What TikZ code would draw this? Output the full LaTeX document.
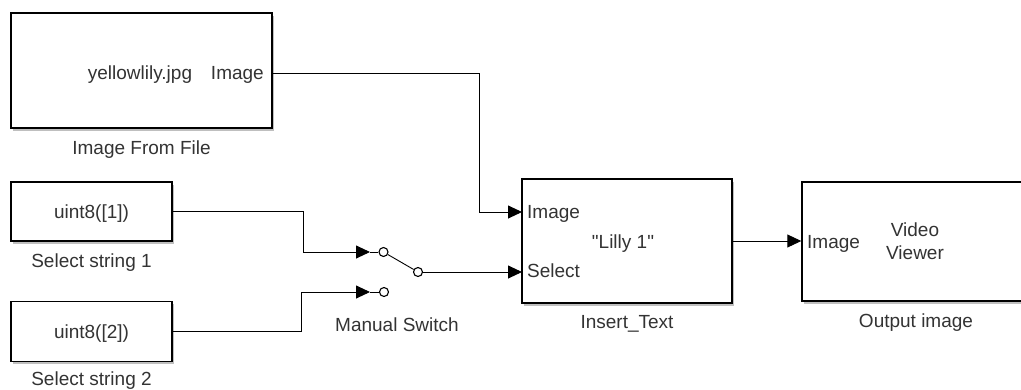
\documentclass[tikz,border=0pt]{standalone}
\usepackage{fontspec}
\setmainfont{Liberation Sans}[Ligatures=TeXOff]
\usetikzlibrary{positioning,arrows.meta,shadows}
\definecolor{txtgray}{HTML}{333333}
\newcommand\blockfont{\fontsize{19}{23}\selectfont}
\tikzset{
  block/.style={draw, line width=1.4pt, fill=white, inner sep=0pt,
    drop shadow={shadow xshift=1.5pt, shadow yshift=-2.5pt, fill=black, opacity=0.25}},
  txt/.style={font=\blockfont, text=txtgray, inner sep=0pt},
  caption/.style={txt, below=12pt of #1},
  wire/.style={line width=0.9pt, -{Triangle[length=14pt,width=13pt]}},
  stub/.style={line width=0.9pt},
  contact/.style={circle, draw, line width=1.1pt, minimum size=9pt, inner sep=0pt}
}
\begin{document}
\begin{tikzpicture}[x=1pt, y=-1pt]
  \useasboundingbox (0,0) rectangle (1021,389);
  % blocks
  \node[block, minimum width=261pt, minimum height=115pt] (file) at (141.5,70.5) {};
  \node[block, minimum width=161pt, minimum height=59pt] (s1) at (91.5,211.5) {};
  \node[block, minimum width=161pt, minimum height=60pt] (s2) at (91.5,331.5) {};
  \node[block, minimum width=210pt, minimum height=124pt] (ins) at (627,241) {};
  \node[block, minimum width=228pt, minimum height=119pt] (out) at (916,241.5) {};
  % block texts
  \node[txt, anchor=base] at (140,79.7) {yellowlily.jpg};
  \node[txt, anchor=base east] at (264,79.7) {Image};
  \node[txt, anchor=base] at (91.5,218.5) {uint8([1])};
  \node[txt, anchor=base] at (91.5,338.5) {uint8([2])};
  \node[txt, anchor=base west] at (527,218.7) {Image};
  \node[txt, anchor=base west] at (527,277.7) {Select};
  \node[txt, anchor=base] at (623,248.7) {"Lilly 1"};
  \node[txt, anchor=base west] at (807,248.7) {Image};
  \node[txt, align=center] at (915,241.4) {Video\\Viewer};
  % captions
  \node[caption=file] {Image From File};
  \node[caption=s1] {Select string 1};
  \node[caption=s2, below=9pt of s2] {Select string 2};
  \node[caption=ins] {Insert\_Text};
  \node[caption=out] {Output image};
  % manual switch
  \node[contact] (sw1) at (383.5,252) {};
  \node[contact] (sw2) at (384,292) {};
  \node[contact] (swo) at (418,272) {};
  \node[txt, anchor=base] at (397,331.7) {Manual Switch};
  \coordinate (sw1tip) at (370,252);
  \coordinate (sw2tip) at (370,292);
  \coordinate (fileOut) at (272,73);
  \coordinate (insImg) at (522,212);
  \coordinate (insSel) at (522,272);
  % connections
  \draw[wire] (fileOut) -- ++(207,0) |- (insImg);
  \draw[wire] (s1.east) -- ++(131,0) |- (sw1tip);
  \draw[wire] (s2.east) -- ++(129,0) |- (sw2tip);
  \draw[stub] (sw1tip) -- (sw1);
  \draw[stub] (sw2tip) -- (sw2);
  \draw[stub] (sw1) -- (swo);
  \draw[wire] (swo) -- (insSel);
  \draw[wire] (ins.east) -- (ins.east -| out.west);
\end{tikzpicture}
\end{document}
